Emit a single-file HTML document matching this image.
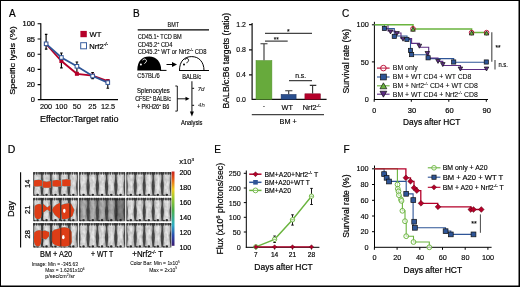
<!DOCTYPE html>
<html><head><meta charset="utf-8">
<style>html,body{margin:0;padding:0;background:#fff;}body{width:520px;height:287px;overflow:hidden;}svg{display:block;will-change:transform;}svg{font-family:"Liberation Sans",sans-serif;}</style></head><body>
<svg width="520" height="287" viewBox="0 0 520 287">
<rect x="0" y="0" width="520" height="287" fill="#000"/>
<rect x="1" y="1" width="517.5" height="284.5" fill="#fff"/>
<text x="9" y="16.6" font-size="10" text-anchor="start" fill="#000"  stroke="#000" stroke-width="0.2">A</text>
<text transform="translate(15.1,60.5) rotate(-90)" font-size="8.0" text-anchor="middle" stroke="#000" stroke-width="0.2" textLength="68.6" lengthAdjust="spacingAndGlyphs">Specific lysis (%)</text>
<g stroke="#000" stroke-width="1.15" fill="none"><path d="M40.8,23.2 V100.1 M37.8,99.6 H118"/>
<path d="M37.6,23.7H40.8 M37.6,39H40.8 M37.6,54.2H40.8 M37.6,69.4H40.8 M37.6,84.6H40.8"/></g>
<text x="35.0" y="26.2" font-size="7.5" text-anchor="end" fill="#000"  stroke="#000" stroke-width="0.2">100</text>
<text x="35.0" y="41.5" font-size="7.5" text-anchor="end" fill="#000"  stroke="#000" stroke-width="0.2">85</text>
<text x="35.0" y="56.7" font-size="7.5" text-anchor="end" fill="#000"  stroke="#000" stroke-width="0.2">60</text>
<text x="35.0" y="71.9" font-size="7.5" text-anchor="end" fill="#000"  stroke="#000" stroke-width="0.2">40</text>
<text x="35.0" y="87.1" font-size="7.5" text-anchor="end" fill="#000"  stroke="#000" stroke-width="0.2">20</text>
<text x="35.0" y="102.3" font-size="7.5" text-anchor="end" fill="#000"  stroke="#000" stroke-width="0.2">0</text>
<text x="46" y="109.3" font-size="7.3" text-anchor="middle" fill="#000"  stroke="#000" stroke-width="0.14">200</text>
<text x="61.4" y="109.3" font-size="7.3" text-anchor="middle" fill="#000"  stroke="#000" stroke-width="0.14">100</text>
<text x="76.9" y="109.3" font-size="7.3" text-anchor="middle" fill="#000"  stroke="#000" stroke-width="0.14">50</text>
<text x="92.4" y="109.3" font-size="7.3" text-anchor="middle" fill="#000"  stroke="#000" stroke-width="0.14">25</text>
<text x="108" y="109.3" font-size="7.3" text-anchor="middle" fill="#000"  stroke="#000" stroke-width="0.14">12.5</text>
<text x="40" y="122.3" font-size="8.9" text-anchor="start" fill="#000" textLength="78.5" lengthAdjust="spacingAndGlyphs"  stroke="#000" stroke-width="0.2">Effector:Target ratio</text>
<g stroke="#000" stroke-width="1.15" fill="none">
<path d="M46.1,34.3V49.1 M44.9,34.3H47.4 M44.9,49.1H47.4"/>
<path d="M61.4,53V67.9 M60.1,53H62.7 M60.1,67.9H62.7"/>
<path d="M76.9,62V75 M75.6,62H78.2"/>
<path d="M92.6,72.5V78.6 M91.3,72.5H93.9 M91.3,78.6H93.9"/>
<path d="M107.8,79.8V88.2 M106.5,79.8H109.1 M106.5,88.2H109.1"/></g>
<polyline points="46.1,44 61.4,61 76.9,73.8 92.6,75.6 107.8,81.2" fill="none" stroke="#b5002a" stroke-width="1.8"/>
<rect x="44.1" y="42" width="4" height="4" fill="#b5002a"/>
<rect x="59.4" y="59" width="4" height="4" fill="#b5002a"/>
<rect x="74.9" y="71.8" width="4" height="4" fill="#b5002a"/>
<rect x="90.6" y="73.6" width="4" height="4" fill="#b5002a"/>
<rect x="105.8" y="79.2" width="4" height="4" fill="#b5002a"/>
<polyline points="46.1,43.8 61.4,57.5 76.9,66.3 92.6,76 107.8,82.6" fill="none" stroke="#2e5597" stroke-width="1.8"/>
<rect x="44.300000000000004" y="42.0" width="3.6" height="3.6" fill="#fff" stroke="#2e5597" stroke-width="1"/>
<rect x="59.6" y="55.7" width="3.6" height="3.6" fill="#fff" stroke="#2e5597" stroke-width="1"/>
<rect x="75.10000000000001" y="64.5" width="3.6" height="3.6" fill="#fff" stroke="#2e5597" stroke-width="1"/>
<rect x="90.8" y="74.2" width="3.6" height="3.6" fill="#fff" stroke="#2e5597" stroke-width="1"/>
<rect x="106.0" y="80.8" width="3.6" height="3.6" fill="#fff" stroke="#2e5597" stroke-width="1"/>
<rect x="80.4" y="30.9" width="6.4" height="6.3" fill="#b5002a"/>
<rect x="80.7" y="42.7" width="5.8" height="6.1" fill="#fff" stroke="#3a5fa0" stroke-width="1"/>
<text x="89.5" y="37.2" font-size="7.6" text-anchor="start" fill="#000"  stroke="#000" stroke-width="0.2">WT</text>
<text x="89.3" y="49.2" font-size="7.6" text-anchor="start" fill="#000"  stroke="#000" stroke-width="0.2">Nrf2<tspan font-size="4.6" dy="-3.2">-/-</tspan></text>
<text x="133" y="16.6" font-size="10" text-anchor="start" fill="#000"  stroke="#000" stroke-width="0.2">B</text>
<text x="167.5" y="26.7" font-size="6.3" text-anchor="start" fill="#000" textLength="11.5" lengthAdjust="spacingAndGlyphs"  stroke="#000" stroke-width="0.1">BMT</text>
<path d="M137.7,29.8H209" stroke="#000" stroke-width="1.2"/>
<text x="137.7" y="39.2" font-size="6.3" text-anchor="start" fill="#000" textLength="44.1" lengthAdjust="spacingAndGlyphs"  stroke="#000" stroke-width="0.1">CD45.1<tspan font-size="4" dy="-2.6">+</tspan><tspan dy="2.6"> TCD BM</tspan></text>
<text x="137.7" y="46.5" font-size="6.3" text-anchor="start" fill="#000" textLength="34.8" lengthAdjust="spacingAndGlyphs"  stroke="#000" stroke-width="0.1">CD45.2<tspan font-size="4" dy="-2.6">+</tspan><tspan dy="2.6"> CD4</tspan></text>
<text x="137.7" y="53.8" font-size="6.3" text-anchor="start" fill="#000" textLength="68.8" lengthAdjust="spacingAndGlyphs"  stroke="#000" stroke-width="0.1">CD45.2<tspan font-size="4" dy="-2.6">+</tspan><tspan dy="2.6"> WT or Nrf2</tspan><tspan font-size="4" dy="-2.6">-/-</tspan><tspan dy="2.6"> CD8</tspan></text>
<path d="M137.3,70.5 C137.3,61 142,56.6 149.2,56.6 C156.5,56.6 161.2,62 161.2,70.5 Z" fill="#000"/>
<path d="M160,70.4H166.5" stroke="#000" stroke-width="1"/>
<path d="M142.7,60.4 a1.9,1.9 0 1 1 2.5,2.3 q-0.6,0.4 -0.6,1.1" fill="none" stroke="#fff" stroke-width="0.9"/>
<circle cx="140.9" cy="64.5" r="1" fill="#fff"/>
<path d="M166.5,64.5H173" stroke="#000" stroke-width="1"/><path d="M177,64.5 L172,62 L172,67 Z" fill="#000"/>
<path d="M179.5,70.5 C179.5,61 184.5,56.6 191.7,56.6 C199,56.6 204,62 204,70.5" fill="none" stroke="#000" stroke-width="1"/>
<path d="M179,70.5H209" stroke="#000" stroke-width="1"/>
<path d="M184.9,59.8 a1.9,1.9 0 1 1 2.5,2.3 q-0.6,0.4 -0.6,1.1" fill="none" stroke="#000" stroke-width="0.9"/>
<circle cx="184" cy="64.5" r="1" fill="#000"/>
<text x="137.3" y="78" font-size="6.3" text-anchor="start" fill="#000" textLength="22.5" lengthAdjust="spacingAndGlyphs"  stroke="#000" stroke-width="0.1">C57BL/6</text>
<text x="182.3" y="79.2" font-size="6.6" text-anchor="start" fill="#000" textLength="18.8" lengthAdjust="spacingAndGlyphs"  stroke="#000" stroke-width="0.14">BALB/c</text>
<text x="153.45" y="92.9" font-size="6.9" text-anchor="middle" fill="#000" textLength="32.7" lengthAdjust="spacingAndGlyphs"  stroke="#000" stroke-width="0.14">Splenocytes</text>
<text x="153.1" y="101" font-size="6.9" text-anchor="middle" fill="#000" textLength="35.8" lengthAdjust="spacingAndGlyphs"  stroke="#000" stroke-width="0.14">CFSE<tspan font-size="4.4" dy="-2.8">+</tspan><tspan dy="2.8"> BALB/c</tspan></text>
<text x="153.1" y="108.7" font-size="6.9" text-anchor="middle" fill="#000" textLength="32.4" lengthAdjust="spacingAndGlyphs"  stroke="#000" stroke-width="0.14">+ PKH26<tspan font-size="4.4" dy="-2.8">+</tspan><tspan dy="2.8"> B6</tspan></text>
<path d="M175.3,86H177.3V111.1H175.3 M177.3,98.8H186" fill="none" stroke="#000" stroke-width="0.9"/>
<path d="M189.5,98.8 L185.5,96.8 L185.5,100.8 Z" fill="#000"/>
<path d="M191.9,81.3V112 M191.9,88.3H194.1 M191.9,105.4H194.1" fill="none" stroke="#333" stroke-width="1.2"/>
<path d="M191.9,116.5 L189.9,111.6 L193.9,111.6 Z" fill="#000"/>
<text x="197.7" y="90.8" font-size="6.0" text-anchor="start" fill="#222" textLength="6.8" lengthAdjust="spacingAndGlyphs" font-style="italic" stroke="#222" stroke-width="0.1">7d</text>
<text x="198.1" y="106.6" font-size="5.8" text-anchor="start" fill="#333" textLength="6.8" lengthAdjust="spacingAndGlyphs" font-style="italic" stroke="#333" stroke-width="0.05">4h</text>
<text x="181" y="124.9" font-size="6.8" text-anchor="start" fill="#000" textLength="21.5" lengthAdjust="spacingAndGlyphs"  stroke="#000" stroke-width="0.14">Analysis</text>
<text transform="translate(228.5,60.65) rotate(-90)" font-size="8.8" text-anchor="middle" stroke="#000" stroke-width="0.2" textLength="95.5" lengthAdjust="spacingAndGlyphs">BALB/c:B6 targets (ratio)</text>
<path d="M252.1,22.9V99.7 M251.6,99.3H326.6 M249,24.6H252.1 M249,49.8H252.1 M249,74.9H252.1" fill="none" stroke="#111" stroke-width="1.2"/>
<text x="245.9" y="27.1" font-size="6.9" text-anchor="end" fill="#000"  stroke="#000" stroke-width="0.14">1.2</text>
<text x="245.9" y="52.3" font-size="6.9" text-anchor="end" fill="#000"  stroke="#000" stroke-width="0.14">0.8</text>
<text x="245.9" y="77.4" font-size="6.9" text-anchor="end" fill="#000"  stroke="#000" stroke-width="0.14">0.4</text>
<text x="245.9" y="102.1" font-size="6.9" text-anchor="end" fill="#000"  stroke="#000" stroke-width="0.14">0.0</text>
<rect x="256.0" y="60.5" width="15.9" height="38.8" fill="#67aa3c" stroke="#52902c" stroke-width="0.5"/>
<rect x="281.1" y="94.4" width="15" height="4.9" fill="#2a4f8e" stroke="#1a2f5e" stroke-width="0.5"/>
<rect x="304.9" y="93.8" width="15.5" height="5.5" fill="#b5002a" stroke="#800020" stroke-width="0.5"/>
<path d="M264,60.2V43.8 M260.5,43.8H267.5 M288.7,94.2V90.7 M285.2,90.7H292.4 M312.6,93.6V85.4 M309.8,85.4H316.3" fill="none" stroke="#333" stroke-width="1.1"/>
<path d="M265,33.4H312 M265,41.2H287.7 M289,80.5H312 M251.8,114.6H324" fill="none" stroke="#444" stroke-width="1.25"/>
<text x="288.4" y="34.1" font-size="6.8" text-anchor="middle" fill="#000"  stroke="#000" stroke-width="0.14">*</text>
<text x="276.2" y="41.5" font-size="6.5" text-anchor="middle" fill="#000"  stroke="#000" stroke-width="0.1">**</text>
<text x="300.7" y="77.8" font-size="7.0" text-anchor="middle" fill="#000" textLength="11" lengthAdjust="spacingAndGlyphs"  stroke="#000" stroke-width="0.14">n.s.</text>
<text x="263.8" y="108" font-size="7.0" text-anchor="middle" fill="#000"  stroke="#000" stroke-width="0.14">-</text>
<text x="287.3" y="109.8" font-size="7.3" text-anchor="middle" fill="#000"  stroke="#000" stroke-width="0.14">WT</text>
<text x="302.7" y="109.8" font-size="7.3" text-anchor="start" fill="#000"  stroke="#000" stroke-width="0.14">Nrf2<tspan font-size="4.4" dy="-3">-/-</tspan></text>
<text x="288.2" y="124" font-size="7.3" text-anchor="middle" fill="#000"  stroke="#000" stroke-width="0.14">BM +</text>
<text x="342" y="17" font-size="10" text-anchor="start" fill="#000"  stroke="#000" stroke-width="0.2">C</text>
<text transform="translate(349.1,61.2) rotate(-90)" font-size="8.4" text-anchor="middle" stroke="#000" stroke-width="0.2" textLength="64.5" lengthAdjust="spacingAndGlyphs">Survival rate (%)</text>
<path d="M374.4,21.8V99.5 M373.9,99.5H488 M371.9,24.8H374.4 M371.9,61.9H374.4 M374.2,99.5V101.8 M411.3,99.5V101.8 M448.8,99.5V101.8 M486.3,99.5V101.8" fill="none" stroke="#000" stroke-width="1"/>
<text x="368.8" y="27.1" font-size="7.3" text-anchor="end" fill="#000"  stroke="#000" stroke-width="0.14">100</text>
<text x="368.8" y="64.6" font-size="7.3" text-anchor="end" fill="#000"  stroke="#000" stroke-width="0.14">50</text>
<text x="368.8" y="102.1" font-size="7.3" text-anchor="end" fill="#000"  stroke="#000" stroke-width="0.14">0</text>
<text x="374.2" y="112.7" font-size="7.9" text-anchor="middle" fill="#000" textLength="3.9" lengthAdjust="spacingAndGlyphs"  stroke="#000" stroke-width="0.2">0</text>
<text x="412.0" y="112.7" font-size="7.9" text-anchor="middle" fill="#000" textLength="8.4" lengthAdjust="spacingAndGlyphs"  stroke="#000" stroke-width="0.2">30</text>
<text x="449.4" y="112.7" font-size="7.9" text-anchor="middle" fill="#000" textLength="8.4" lengthAdjust="spacingAndGlyphs"  stroke="#000" stroke-width="0.2">60</text>
<text x="486.8" y="112.7" font-size="7.9" text-anchor="middle" fill="#000" textLength="8.4" lengthAdjust="spacingAndGlyphs"  stroke="#000" stroke-width="0.2">90</text>
<text x="403.1" y="125.2" font-size="8.5" text-anchor="start" fill="#000" textLength="57.3" lengthAdjust="spacingAndGlyphs"  stroke="#000" stroke-width="0.2">Days after HCT</text>
<path d="M374.4,24.8 H384.4 V28.6 H394.3 V36 H407 V39.4 H410.5 V54.8 H428 V58.6 H453.7 V62.2 H486.3" fill="none" stroke="#2e5597" stroke-width="1.1"/>
<path d="M388,24.8 V31 H395 V33 H401 V38.5 H411.6 V43.4 H419.4 V47.2 H428.7 V58 H438 V61.4 H442.8 V65.5 H460.5 V69.5 H486.5" fill="none" stroke="#5c2d83" stroke-width="1.1"/>
<path d="M374.4,24.8 H413 V29 H471.6 V32.5 H486.6" fill="none" stroke="#6ab43e" stroke-width="1.5"/>
<path d="M388.2,29.898999999999997 H392.8 L390.5,33.900999999999996 Z" fill="#5c2d83" stroke="#111" stroke-width="0.7"/>
<path d="M394.7,31.499 H399.3 L397,35.501 Z" fill="#5c2d83" stroke="#111" stroke-width="0.7"/>
<path d="M400.7,37.199000000000005 H405.3 L403,41.201 Z" fill="#5c2d83" stroke="#111" stroke-width="0.7"/>
<path d="M417.09999999999997,44.199000000000005 H421.7 L419.4,48.201 Z" fill="#5c2d83" stroke="#111" stroke-width="0.7"/>
<path d="M425.0,51.499 H429.6 L427.3,55.501 Z" fill="#5c2d83" stroke="#111" stroke-width="0.7"/>
<path d="M435.7,59.399 H440.3 L438,63.400999999999996 Z" fill="#5c2d83" stroke="#111" stroke-width="0.7"/>
<path d="M440.5,62.599 H445.1 L442.8,66.601 Z" fill="#5c2d83" stroke="#111" stroke-width="0.7"/>
<path d="M458.09999999999997,66.999 H462.7 L460.4,71.001 Z" fill="#5c2d83" stroke="#111" stroke-width="0.7"/>
<path d="M484.2,66.999 H488.8 L486.5,71.001 Z" fill="#5c2d83" stroke="#111" stroke-width="0.7"/>
<rect x="382.29999999999995" y="26.4" width="4.2" height="4.2" fill="#2e5597" stroke="#111" stroke-width="0.7"/>
<rect x="392.2" y="34.3" width="4.2" height="4.2" fill="#2e5597" stroke="#111" stroke-width="0.7"/>
<rect x="404.79999999999995" y="37.3" width="4.2" height="4.2" fill="#2e5597" stroke="#111" stroke-width="0.7"/>
<rect x="408.4" y="48.3" width="4.2" height="4.2" fill="#2e5597" stroke="#111" stroke-width="0.7"/>
<rect x="409.5" y="52.5" width="4.2" height="4.2" fill="#2e5597" stroke="#111" stroke-width="0.7"/>
<rect x="426.0" y="55.699999999999996" width="4.2" height="4.2" fill="#2e5597" stroke="#111" stroke-width="0.7"/>
<rect x="451.59999999999997" y="59.9" width="4.2" height="4.2" fill="#2e5597" stroke="#111" stroke-width="0.7"/>
<rect x="484.2" y="59.9" width="4.2" height="4.2" fill="#2e5597" stroke="#111" stroke-width="0.7"/>
<circle cx="413" cy="28.8" r="2.3" fill="none" stroke="#b5002a" stroke-width="0.9"/>
<path d="M410.7,31.201 H415.3 L413,27.198999999999998 Z" fill="#6ab43e" stroke="#111" stroke-width="0.7"/>
<circle cx="471.6" cy="32.6" r="2.3" fill="none" stroke="#b5002a" stroke-width="0.9"/>
<path d="M469.3,35.001 H473.90000000000003 L471.6,30.999 Z" fill="#6ab43e" stroke="#111" stroke-width="0.7"/>
<circle cx="486.6" cy="32.6" r="2.3" fill="none" stroke="#b5002a" stroke-width="0.9"/>
<path d="M484.3,35.001 H488.90000000000003 L486.6,30.999 Z" fill="#6ab43e" stroke="#111" stroke-width="0.7"/>
<path d="M377,68.1H389.6" stroke="#b5002a" stroke-width="1.1"/>
<circle cx="383.4" cy="68.1" r="2.8" fill="#fff" stroke="#b5002a" stroke-width="0.9"/>
<path d="M380.6,68.1H386.2" stroke="#b5002a" stroke-width="0.9"/>
<text x="392.8" y="70.39999999999999" font-size="6.9" text-anchor="start" fill="#000"  stroke="#000" stroke-width="0.05">BM only</text>
<path d="M377,77H389.6" stroke="#2e5597" stroke-width="1.1"/>
<rect x="380.5" y="74.1" width="5.8" height="5.8" fill="#2e5597" stroke="#111" stroke-width="0.7"/>
<text x="392.8" y="79.3" font-size="6.9" text-anchor="start" fill="#000"  stroke="#000" stroke-width="0.05">BM + WT CD4 + WT CD8</text>
<path d="M377,85.8H389.6" stroke="#6ab43e" stroke-width="1.1"/>
<path d="M380.0,88.758 H386.79999999999995 L383.4,82.842 Z" fill="#6ab43e" stroke="#111" stroke-width="0.7"/>
<text x="392.8" y="88.1" font-size="6.9" text-anchor="start" fill="#000"  stroke="#000" stroke-width="0.05">BM + Nrf2<tspan font-size="4.2" dy="-2.8">-/-</tspan><tspan dy="2.8"> CD4 + WT CD8</tspan></text>
<path d="M377,94.2H389.6" stroke="#5c2d83" stroke-width="1.1"/>
<path d="M380.0,91.242 H386.79999999999995 L383.4,97.158 Z" fill="#5c2d83" stroke="#111" stroke-width="0.7"/>
<text x="392.8" y="96.5" font-size="6.9" text-anchor="start" fill="#000"  stroke="#000" stroke-width="0.05">BM + WT CD4 + Nrf2<tspan font-size="4.2" dy="-2.8">-/-</tspan><tspan dy="2.8"> CD8</tspan></text>
<path d="M491.8,32.2V61.8 M495,59.9V69.4" stroke="#555" stroke-width="1.2" fill="none"/>
<text x="498.0" y="49.6" font-size="7.0" text-anchor="middle" fill="#000" textLength="5" lengthAdjust="spacingAndGlyphs"  stroke="#000" stroke-width="0.14">**</text>
<text x="498.4" y="67.2" font-size="7.0" text-anchor="start" fill="#000" textLength="9.5" lengthAdjust="spacingAndGlyphs"  stroke="#000" stroke-width="0.14">n.s.</text>
<text x="7.8" y="153.4" font-size="10.5" text-anchor="start" fill="#000"  stroke="#000" stroke-width="0.2">D</text>
<text transform="translate(14.3,209.0) rotate(-90)" font-size="8.4" text-anchor="middle" stroke="#000" stroke-width="0.2" textLength="16.2" lengthAdjust="spacingAndGlyphs">Day</text>
<path d="M20.6,172.2V247.4" stroke="#000" stroke-width="1.1"/>
<text transform="translate(30.4,183.7) rotate(-90)" font-size="7.6" text-anchor="middle" stroke="#000" stroke-width="0.2">14</text>
<text transform="translate(30.4,209.7) rotate(-90)" font-size="7.6" text-anchor="middle" stroke="#000" stroke-width="0.2">21</text>
<text transform="translate(30.4,234.2) rotate(-90)" font-size="7.6" text-anchor="middle" stroke="#000" stroke-width="0.2">28</text>
<defs>
<linearGradient id="mg" x1="0" x2="1" y1="0" y2="0"><stop offset="0" stop-color="#9a9a9a"/><stop offset="0.25" stop-color="#dcdcdc"/><stop offset="0.6" stop-color="#eaeaea"/><stop offset="1" stop-color="#b4b4b4"/></linearGradient>
<linearGradient id="mgd" x1="0" x2="1" y1="0" y2="0"><stop offset="0" stop-color="#606060"/><stop offset="0.25" stop-color="#a4a4a4"/><stop offset="0.6" stop-color="#b8b8b8"/><stop offset="1" stop-color="#888888"/></linearGradient>
<linearGradient id="cb" x1="0" x2="0" y1="0" y2="1"><stop offset="0" stop-color="#c8201c"/><stop offset="0.1" stop-color="#e45a1a"/><stop offset="0.24" stop-color="#f0cc20"/><stop offset="0.36" stop-color="#9cc832"/><stop offset="0.52" stop-color="#4cae4a"/><stop offset="0.72" stop-color="#2eaec4"/><stop offset="0.86" stop-color="#2a4cae"/><stop offset="1" stop-color="#3a1a70"/></linearGradient>
<filter id="bl" x="-5%" y="-5%" width="110%" height="110%"><feGaussianBlur stdDeviation="0.35"/></filter>
<filter id="nz" x="0" y="0" width="100%" height="100%"><feTurbulence type="fractalNoise" baseFrequency="0.35 0.22" numOctaves="2" seed="3" result="t"/><feColorMatrix in="t" type="matrix" values="0 0 0 0 0  0 0 0 0 0  0 0 0 0 0  0 0 0 -1.6 1.05" result="m"/><feComposite in="m" in2="SourceGraphic" operator="in"/></filter>
<path id="mouse" d="M1.6,0.4 H7.4 C8.2,1.5 8.6,3.5 8.4,6.5 C8.1,9.5 7.5,11.5 7.5,14 C7.5,17 8.1,20 8.4,23.6 L0.6,23.6 C0.9,20 1.5,17 1.5,14 C1.5,11.5 0.9,9.5 0.6,6.5 C0.4,3.5 0.8,1.5 1.6,0.4 Z"/>
</defs>
<g filter="url(#bl)">
<rect x="33.1" y="172.1" width="44.7" height="23.7" fill="#484848"/>
<use href="#mouse" transform="translate(33.10,172.1) scale(0.971,0.988)" fill="url(#mg)"/>
<ellipse cx="34.29" cy="173.40" rx="0.9" ry="1.4" fill="#2e2e2e" opacity="0.85"/>
<ellipse cx="36.68" cy="173.40" rx="0.9" ry="1.4" fill="#2e2e2e" opacity="0.85"/>
<ellipse cx="39.06" cy="173.40" rx="0.9" ry="1.4" fill="#2e2e2e" opacity="0.85"/>
<ellipse cx="41.05" cy="173.40" rx="0.9" ry="1.4" fill="#2e2e2e" opacity="0.85"/>
<ellipse cx="37.57" cy="194.80" rx="1.3" ry="1.1" fill="#2a2a2a"/>
<ellipse cx="34.70" cy="195.10" rx="1.0" ry="0.7" fill="#333"/>
<use href="#mouse" transform="translate(42.04,172.1) scale(0.971,0.988)" fill="url(#mg)"/>
<ellipse cx="43.23" cy="173.40" rx="0.9" ry="1.4" fill="#2e2e2e" opacity="0.85"/>
<ellipse cx="45.62" cy="173.40" rx="0.9" ry="1.4" fill="#2e2e2e" opacity="0.85"/>
<ellipse cx="48.00" cy="173.40" rx="0.9" ry="1.4" fill="#2e2e2e" opacity="0.85"/>
<ellipse cx="49.99" cy="173.40" rx="0.9" ry="1.4" fill="#2e2e2e" opacity="0.85"/>
<ellipse cx="46.51" cy="194.80" rx="1.3" ry="1.1" fill="#2a2a2a"/>
<ellipse cx="43.64" cy="195.10" rx="1.0" ry="0.7" fill="#333"/>
<use href="#mouse" transform="translate(50.98,172.1) scale(0.971,0.988)" fill="url(#mg)"/>
<ellipse cx="52.17" cy="173.40" rx="0.9" ry="1.4" fill="#2e2e2e" opacity="0.85"/>
<ellipse cx="54.56" cy="173.40" rx="0.9" ry="1.4" fill="#2e2e2e" opacity="0.85"/>
<ellipse cx="56.94" cy="173.40" rx="0.9" ry="1.4" fill="#2e2e2e" opacity="0.85"/>
<ellipse cx="58.93" cy="173.40" rx="0.9" ry="1.4" fill="#2e2e2e" opacity="0.85"/>
<ellipse cx="55.45" cy="194.80" rx="1.3" ry="1.1" fill="#2a2a2a"/>
<ellipse cx="52.58" cy="195.10" rx="1.0" ry="0.7" fill="#333"/>
<use href="#mouse" transform="translate(59.92,172.1) scale(0.971,0.988)" fill="url(#mg)"/>
<ellipse cx="61.11" cy="173.40" rx="0.9" ry="1.4" fill="#2e2e2e" opacity="0.85"/>
<ellipse cx="63.50" cy="173.40" rx="0.9" ry="1.4" fill="#2e2e2e" opacity="0.85"/>
<ellipse cx="65.88" cy="173.40" rx="0.9" ry="1.4" fill="#2e2e2e" opacity="0.85"/>
<ellipse cx="67.87" cy="173.40" rx="0.9" ry="1.4" fill="#2e2e2e" opacity="0.85"/>
<ellipse cx="64.39" cy="194.80" rx="1.3" ry="1.1" fill="#2a2a2a"/>
<ellipse cx="61.52" cy="195.10" rx="1.0" ry="0.7" fill="#333"/>
<use href="#mouse" transform="translate(68.86,172.1) scale(0.971,0.988)" fill="url(#mg)"/>
<ellipse cx="70.05" cy="173.40" rx="0.9" ry="1.4" fill="#2e2e2e" opacity="0.85"/>
<ellipse cx="72.44" cy="173.40" rx="0.9" ry="1.4" fill="#2e2e2e" opacity="0.85"/>
<ellipse cx="74.82" cy="173.40" rx="0.9" ry="1.4" fill="#2e2e2e" opacity="0.85"/>
<ellipse cx="76.81" cy="173.40" rx="0.9" ry="1.4" fill="#2e2e2e" opacity="0.85"/>
<ellipse cx="73.33" cy="194.80" rx="1.3" ry="1.1" fill="#2a2a2a"/>
<ellipse cx="70.46" cy="195.10" rx="1.0" ry="0.7" fill="#333"/>
<rect x="33.1" y="197.9" width="44.7" height="23.3" fill="#484848"/>
<use href="#mouse" transform="translate(33.10,197.9) scale(0.971,0.971)" fill="url(#mg)"/>
<ellipse cx="34.29" cy="199.20" rx="0.9" ry="1.4" fill="#2e2e2e" opacity="0.85"/>
<ellipse cx="36.68" cy="199.20" rx="0.9" ry="1.4" fill="#2e2e2e" opacity="0.85"/>
<ellipse cx="39.06" cy="199.20" rx="0.9" ry="1.4" fill="#2e2e2e" opacity="0.85"/>
<ellipse cx="41.05" cy="199.20" rx="0.9" ry="1.4" fill="#2e2e2e" opacity="0.85"/>
<ellipse cx="37.57" cy="220.20" rx="1.3" ry="1.1" fill="#2a2a2a"/>
<ellipse cx="34.70" cy="220.50" rx="1.0" ry="0.7" fill="#333"/>
<use href="#mouse" transform="translate(42.04,197.9) scale(0.971,0.971)" fill="url(#mg)"/>
<ellipse cx="43.23" cy="199.20" rx="0.9" ry="1.4" fill="#2e2e2e" opacity="0.85"/>
<ellipse cx="45.62" cy="199.20" rx="0.9" ry="1.4" fill="#2e2e2e" opacity="0.85"/>
<ellipse cx="48.00" cy="199.20" rx="0.9" ry="1.4" fill="#2e2e2e" opacity="0.85"/>
<ellipse cx="49.99" cy="199.20" rx="0.9" ry="1.4" fill="#2e2e2e" opacity="0.85"/>
<ellipse cx="46.51" cy="220.20" rx="1.3" ry="1.1" fill="#2a2a2a"/>
<ellipse cx="43.64" cy="220.50" rx="1.0" ry="0.7" fill="#333"/>
<use href="#mouse" transform="translate(50.98,197.9) scale(0.971,0.971)" fill="url(#mg)"/>
<ellipse cx="52.17" cy="199.20" rx="0.9" ry="1.4" fill="#2e2e2e" opacity="0.85"/>
<ellipse cx="54.56" cy="199.20" rx="0.9" ry="1.4" fill="#2e2e2e" opacity="0.85"/>
<ellipse cx="56.94" cy="199.20" rx="0.9" ry="1.4" fill="#2e2e2e" opacity="0.85"/>
<ellipse cx="58.93" cy="199.20" rx="0.9" ry="1.4" fill="#2e2e2e" opacity="0.85"/>
<ellipse cx="55.45" cy="220.20" rx="1.3" ry="1.1" fill="#2a2a2a"/>
<ellipse cx="52.58" cy="220.50" rx="1.0" ry="0.7" fill="#333"/>
<use href="#mouse" transform="translate(59.92,197.9) scale(0.971,0.971)" fill="url(#mg)"/>
<ellipse cx="61.11" cy="199.20" rx="0.9" ry="1.4" fill="#2e2e2e" opacity="0.85"/>
<ellipse cx="63.50" cy="199.20" rx="0.9" ry="1.4" fill="#2e2e2e" opacity="0.85"/>
<ellipse cx="65.88" cy="199.20" rx="0.9" ry="1.4" fill="#2e2e2e" opacity="0.85"/>
<ellipse cx="67.87" cy="199.20" rx="0.9" ry="1.4" fill="#2e2e2e" opacity="0.85"/>
<ellipse cx="64.39" cy="220.20" rx="1.3" ry="1.1" fill="#2a2a2a"/>
<ellipse cx="61.52" cy="220.50" rx="1.0" ry="0.7" fill="#333"/>
<use href="#mouse" transform="translate(68.86,197.9) scale(0.971,0.971)" fill="url(#mg)"/>
<ellipse cx="70.05" cy="199.20" rx="0.9" ry="1.4" fill="#2e2e2e" opacity="0.85"/>
<ellipse cx="72.44" cy="199.20" rx="0.9" ry="1.4" fill="#2e2e2e" opacity="0.85"/>
<ellipse cx="74.82" cy="199.20" rx="0.9" ry="1.4" fill="#2e2e2e" opacity="0.85"/>
<ellipse cx="76.81" cy="199.20" rx="0.9" ry="1.4" fill="#2e2e2e" opacity="0.85"/>
<ellipse cx="73.33" cy="220.20" rx="1.3" ry="1.1" fill="#2a2a2a"/>
<ellipse cx="70.46" cy="220.50" rx="1.0" ry="0.7" fill="#333"/>
<rect x="33.1" y="223.0" width="44.7" height="24.4" fill="#484848"/>
<use href="#mouse" transform="translate(33.10,223.0) scale(0.971,1.017)" fill="url(#mg)"/>
<ellipse cx="34.29" cy="224.30" rx="0.9" ry="1.4" fill="#2e2e2e" opacity="0.85"/>
<ellipse cx="36.68" cy="224.30" rx="0.9" ry="1.4" fill="#2e2e2e" opacity="0.85"/>
<ellipse cx="39.06" cy="224.30" rx="0.9" ry="1.4" fill="#2e2e2e" opacity="0.85"/>
<ellipse cx="41.05" cy="224.30" rx="0.9" ry="1.4" fill="#2e2e2e" opacity="0.85"/>
<ellipse cx="37.57" cy="246.40" rx="1.3" ry="1.1" fill="#2a2a2a"/>
<ellipse cx="34.70" cy="246.70" rx="1.0" ry="0.7" fill="#333"/>
<use href="#mouse" transform="translate(42.04,223.0) scale(0.971,1.017)" fill="url(#mg)"/>
<ellipse cx="43.23" cy="224.30" rx="0.9" ry="1.4" fill="#2e2e2e" opacity="0.85"/>
<ellipse cx="45.62" cy="224.30" rx="0.9" ry="1.4" fill="#2e2e2e" opacity="0.85"/>
<ellipse cx="48.00" cy="224.30" rx="0.9" ry="1.4" fill="#2e2e2e" opacity="0.85"/>
<ellipse cx="49.99" cy="224.30" rx="0.9" ry="1.4" fill="#2e2e2e" opacity="0.85"/>
<ellipse cx="46.51" cy="246.40" rx="1.3" ry="1.1" fill="#2a2a2a"/>
<ellipse cx="43.64" cy="246.70" rx="1.0" ry="0.7" fill="#333"/>
<use href="#mouse" transform="translate(50.98,223.0) scale(0.971,1.017)" fill="url(#mg)"/>
<ellipse cx="52.17" cy="224.30" rx="0.9" ry="1.4" fill="#2e2e2e" opacity="0.85"/>
<ellipse cx="54.56" cy="224.30" rx="0.9" ry="1.4" fill="#2e2e2e" opacity="0.85"/>
<ellipse cx="56.94" cy="224.30" rx="0.9" ry="1.4" fill="#2e2e2e" opacity="0.85"/>
<ellipse cx="58.93" cy="224.30" rx="0.9" ry="1.4" fill="#2e2e2e" opacity="0.85"/>
<ellipse cx="55.45" cy="246.40" rx="1.3" ry="1.1" fill="#2a2a2a"/>
<ellipse cx="52.58" cy="246.70" rx="1.0" ry="0.7" fill="#333"/>
<use href="#mouse" transform="translate(59.92,223.0) scale(0.971,1.017)" fill="url(#mg)"/>
<ellipse cx="61.11" cy="224.30" rx="0.9" ry="1.4" fill="#2e2e2e" opacity="0.85"/>
<ellipse cx="63.50" cy="224.30" rx="0.9" ry="1.4" fill="#2e2e2e" opacity="0.85"/>
<ellipse cx="65.88" cy="224.30" rx="0.9" ry="1.4" fill="#2e2e2e" opacity="0.85"/>
<ellipse cx="67.87" cy="224.30" rx="0.9" ry="1.4" fill="#2e2e2e" opacity="0.85"/>
<ellipse cx="64.39" cy="246.40" rx="1.3" ry="1.1" fill="#2a2a2a"/>
<ellipse cx="61.52" cy="246.70" rx="1.0" ry="0.7" fill="#333"/>
<use href="#mouse" transform="translate(68.86,223.0) scale(0.971,1.017)" fill="url(#mg)"/>
<ellipse cx="70.05" cy="224.30" rx="0.9" ry="1.4" fill="#2e2e2e" opacity="0.85"/>
<ellipse cx="72.44" cy="224.30" rx="0.9" ry="1.4" fill="#2e2e2e" opacity="0.85"/>
<ellipse cx="74.82" cy="224.30" rx="0.9" ry="1.4" fill="#2e2e2e" opacity="0.85"/>
<ellipse cx="76.81" cy="224.30" rx="0.9" ry="1.4" fill="#2e2e2e" opacity="0.85"/>
<ellipse cx="73.33" cy="246.40" rx="1.3" ry="1.1" fill="#2a2a2a"/>
<ellipse cx="70.46" cy="246.70" rx="1.0" ry="0.7" fill="#333"/>
<rect x="78.9" y="172.1" width="46.3" height="23.7" fill="#484848"/>
<use href="#mouse" transform="translate(78.90,172.1) scale(1.007,0.988)" fill="url(#mg)"/>
<ellipse cx="80.13" cy="173.40" rx="0.9" ry="1.4" fill="#2e2e2e" opacity="0.85"/>
<ellipse cx="82.60" cy="173.40" rx="0.9" ry="1.4" fill="#2e2e2e" opacity="0.85"/>
<ellipse cx="85.07" cy="173.40" rx="0.9" ry="1.4" fill="#2e2e2e" opacity="0.85"/>
<ellipse cx="87.13" cy="173.40" rx="0.9" ry="1.4" fill="#2e2e2e" opacity="0.85"/>
<ellipse cx="83.53" cy="194.80" rx="1.3" ry="1.1" fill="#2a2a2a"/>
<ellipse cx="80.50" cy="195.10" rx="1.0" ry="0.7" fill="#333"/>
<use href="#mouse" transform="translate(88.16,172.1) scale(1.007,0.988)" fill="url(#mg)"/>
<ellipse cx="89.39" cy="173.40" rx="0.9" ry="1.4" fill="#2e2e2e" opacity="0.85"/>
<ellipse cx="91.86" cy="173.40" rx="0.9" ry="1.4" fill="#2e2e2e" opacity="0.85"/>
<ellipse cx="94.33" cy="173.40" rx="0.9" ry="1.4" fill="#2e2e2e" opacity="0.85"/>
<ellipse cx="96.39" cy="173.40" rx="0.9" ry="1.4" fill="#2e2e2e" opacity="0.85"/>
<ellipse cx="92.79" cy="194.80" rx="1.3" ry="1.1" fill="#2a2a2a"/>
<ellipse cx="89.76" cy="195.10" rx="1.0" ry="0.7" fill="#333"/>
<use href="#mouse" transform="translate(97.42,172.1) scale(1.007,0.988)" fill="url(#mg)"/>
<ellipse cx="98.65" cy="173.40" rx="0.9" ry="1.4" fill="#2e2e2e" opacity="0.85"/>
<ellipse cx="101.12" cy="173.40" rx="0.9" ry="1.4" fill="#2e2e2e" opacity="0.85"/>
<ellipse cx="103.59" cy="173.40" rx="0.9" ry="1.4" fill="#2e2e2e" opacity="0.85"/>
<ellipse cx="105.65" cy="173.40" rx="0.9" ry="1.4" fill="#2e2e2e" opacity="0.85"/>
<ellipse cx="102.05" cy="194.80" rx="1.3" ry="1.1" fill="#2a2a2a"/>
<ellipse cx="99.02" cy="195.10" rx="1.0" ry="0.7" fill="#333"/>
<use href="#mouse" transform="translate(106.68,172.1) scale(1.007,0.988)" fill="url(#mg)"/>
<ellipse cx="107.91" cy="173.40" rx="0.9" ry="1.4" fill="#2e2e2e" opacity="0.85"/>
<ellipse cx="110.38" cy="173.40" rx="0.9" ry="1.4" fill="#2e2e2e" opacity="0.85"/>
<ellipse cx="112.85" cy="173.40" rx="0.9" ry="1.4" fill="#2e2e2e" opacity="0.85"/>
<ellipse cx="114.91" cy="173.40" rx="0.9" ry="1.4" fill="#2e2e2e" opacity="0.85"/>
<ellipse cx="111.31" cy="194.80" rx="1.3" ry="1.1" fill="#2a2a2a"/>
<ellipse cx="108.28" cy="195.10" rx="1.0" ry="0.7" fill="#333"/>
<use href="#mouse" transform="translate(115.94,172.1) scale(1.007,0.988)" fill="url(#mg)"/>
<ellipse cx="117.17" cy="173.40" rx="0.9" ry="1.4" fill="#2e2e2e" opacity="0.85"/>
<ellipse cx="119.64" cy="173.40" rx="0.9" ry="1.4" fill="#2e2e2e" opacity="0.85"/>
<ellipse cx="122.11" cy="173.40" rx="0.9" ry="1.4" fill="#2e2e2e" opacity="0.85"/>
<ellipse cx="124.17" cy="173.40" rx="0.9" ry="1.4" fill="#2e2e2e" opacity="0.85"/>
<ellipse cx="120.57" cy="194.80" rx="1.3" ry="1.1" fill="#2a2a2a"/>
<ellipse cx="117.54" cy="195.10" rx="1.0" ry="0.7" fill="#333"/>
<rect x="78.9" y="197.9" width="46.3" height="23.3" fill="#484848"/>
<use href="#mouse" transform="translate(78.90,197.9) scale(1.007,0.971)" fill="url(#mgd)"/>
<ellipse cx="80.13" cy="199.20" rx="0.9" ry="1.4" fill="#2e2e2e" opacity="0.85"/>
<ellipse cx="82.60" cy="199.20" rx="0.9" ry="1.4" fill="#2e2e2e" opacity="0.85"/>
<ellipse cx="85.07" cy="199.20" rx="0.9" ry="1.4" fill="#2e2e2e" opacity="0.85"/>
<ellipse cx="87.13" cy="199.20" rx="0.9" ry="1.4" fill="#2e2e2e" opacity="0.85"/>
<ellipse cx="83.53" cy="220.20" rx="1.3" ry="1.1" fill="#2a2a2a"/>
<ellipse cx="80.50" cy="220.50" rx="1.0" ry="0.7" fill="#333"/>
<use href="#mouse" transform="translate(88.16,197.9) scale(1.007,0.971)" fill="url(#mgd)"/>
<ellipse cx="89.39" cy="199.20" rx="0.9" ry="1.4" fill="#2e2e2e" opacity="0.85"/>
<ellipse cx="91.86" cy="199.20" rx="0.9" ry="1.4" fill="#2e2e2e" opacity="0.85"/>
<ellipse cx="94.33" cy="199.20" rx="0.9" ry="1.4" fill="#2e2e2e" opacity="0.85"/>
<ellipse cx="96.39" cy="199.20" rx="0.9" ry="1.4" fill="#2e2e2e" opacity="0.85"/>
<ellipse cx="92.79" cy="220.20" rx="1.3" ry="1.1" fill="#2a2a2a"/>
<ellipse cx="89.76" cy="220.50" rx="1.0" ry="0.7" fill="#333"/>
<use href="#mouse" transform="translate(97.42,197.9) scale(1.007,0.971)" fill="url(#mgd)"/>
<ellipse cx="98.65" cy="199.20" rx="0.9" ry="1.4" fill="#2e2e2e" opacity="0.85"/>
<ellipse cx="101.12" cy="199.20" rx="0.9" ry="1.4" fill="#2e2e2e" opacity="0.85"/>
<ellipse cx="103.59" cy="199.20" rx="0.9" ry="1.4" fill="#2e2e2e" opacity="0.85"/>
<ellipse cx="105.65" cy="199.20" rx="0.9" ry="1.4" fill="#2e2e2e" opacity="0.85"/>
<ellipse cx="102.05" cy="220.20" rx="1.3" ry="1.1" fill="#2a2a2a"/>
<ellipse cx="99.02" cy="220.50" rx="1.0" ry="0.7" fill="#333"/>
<use href="#mouse" transform="translate(106.68,197.9) scale(1.007,0.971)" fill="url(#mgd)"/>
<ellipse cx="107.91" cy="199.20" rx="0.9" ry="1.4" fill="#2e2e2e" opacity="0.85"/>
<ellipse cx="110.38" cy="199.20" rx="0.9" ry="1.4" fill="#2e2e2e" opacity="0.85"/>
<ellipse cx="112.85" cy="199.20" rx="0.9" ry="1.4" fill="#2e2e2e" opacity="0.85"/>
<ellipse cx="114.91" cy="199.20" rx="0.9" ry="1.4" fill="#2e2e2e" opacity="0.85"/>
<ellipse cx="111.31" cy="220.20" rx="1.3" ry="1.1" fill="#2a2a2a"/>
<ellipse cx="108.28" cy="220.50" rx="1.0" ry="0.7" fill="#333"/>
<use href="#mouse" transform="translate(115.94,197.9) scale(1.007,0.971)" fill="url(#mgd)"/>
<ellipse cx="117.17" cy="199.20" rx="0.9" ry="1.4" fill="#2e2e2e" opacity="0.85"/>
<ellipse cx="119.64" cy="199.20" rx="0.9" ry="1.4" fill="#2e2e2e" opacity="0.85"/>
<ellipse cx="122.11" cy="199.20" rx="0.9" ry="1.4" fill="#2e2e2e" opacity="0.85"/>
<ellipse cx="124.17" cy="199.20" rx="0.9" ry="1.4" fill="#2e2e2e" opacity="0.85"/>
<ellipse cx="120.57" cy="220.20" rx="1.3" ry="1.1" fill="#2a2a2a"/>
<ellipse cx="117.54" cy="220.50" rx="1.0" ry="0.7" fill="#333"/>
<rect x="78.9" y="223.0" width="46.3" height="24.4" fill="#484848"/>
<use href="#mouse" transform="translate(78.90,223.0) scale(1.007,1.017)" fill="url(#mg)"/>
<ellipse cx="80.13" cy="224.30" rx="0.9" ry="1.4" fill="#2e2e2e" opacity="0.85"/>
<ellipse cx="82.60" cy="224.30" rx="0.9" ry="1.4" fill="#2e2e2e" opacity="0.85"/>
<ellipse cx="85.07" cy="224.30" rx="0.9" ry="1.4" fill="#2e2e2e" opacity="0.85"/>
<ellipse cx="87.13" cy="224.30" rx="0.9" ry="1.4" fill="#2e2e2e" opacity="0.85"/>
<ellipse cx="83.53" cy="246.40" rx="1.3" ry="1.1" fill="#2a2a2a"/>
<ellipse cx="80.50" cy="246.70" rx="1.0" ry="0.7" fill="#333"/>
<use href="#mouse" transform="translate(88.16,223.0) scale(1.007,1.017)" fill="url(#mg)"/>
<ellipse cx="89.39" cy="224.30" rx="0.9" ry="1.4" fill="#2e2e2e" opacity="0.85"/>
<ellipse cx="91.86" cy="224.30" rx="0.9" ry="1.4" fill="#2e2e2e" opacity="0.85"/>
<ellipse cx="94.33" cy="224.30" rx="0.9" ry="1.4" fill="#2e2e2e" opacity="0.85"/>
<ellipse cx="96.39" cy="224.30" rx="0.9" ry="1.4" fill="#2e2e2e" opacity="0.85"/>
<ellipse cx="92.79" cy="246.40" rx="1.3" ry="1.1" fill="#2a2a2a"/>
<ellipse cx="89.76" cy="246.70" rx="1.0" ry="0.7" fill="#333"/>
<use href="#mouse" transform="translate(97.42,223.0) scale(1.007,1.017)" fill="url(#mg)"/>
<ellipse cx="98.65" cy="224.30" rx="0.9" ry="1.4" fill="#2e2e2e" opacity="0.85"/>
<ellipse cx="101.12" cy="224.30" rx="0.9" ry="1.4" fill="#2e2e2e" opacity="0.85"/>
<ellipse cx="103.59" cy="224.30" rx="0.9" ry="1.4" fill="#2e2e2e" opacity="0.85"/>
<ellipse cx="105.65" cy="224.30" rx="0.9" ry="1.4" fill="#2e2e2e" opacity="0.85"/>
<ellipse cx="102.05" cy="246.40" rx="1.3" ry="1.1" fill="#2a2a2a"/>
<ellipse cx="99.02" cy="246.70" rx="1.0" ry="0.7" fill="#333"/>
<use href="#mouse" transform="translate(106.68,223.0) scale(1.007,1.017)" fill="url(#mg)"/>
<ellipse cx="107.91" cy="224.30" rx="0.9" ry="1.4" fill="#2e2e2e" opacity="0.85"/>
<ellipse cx="110.38" cy="224.30" rx="0.9" ry="1.4" fill="#2e2e2e" opacity="0.85"/>
<ellipse cx="112.85" cy="224.30" rx="0.9" ry="1.4" fill="#2e2e2e" opacity="0.85"/>
<ellipse cx="114.91" cy="224.30" rx="0.9" ry="1.4" fill="#2e2e2e" opacity="0.85"/>
<ellipse cx="111.31" cy="246.40" rx="1.3" ry="1.1" fill="#2a2a2a"/>
<ellipse cx="108.28" cy="246.70" rx="1.0" ry="0.7" fill="#333"/>
<use href="#mouse" transform="translate(115.94,223.0) scale(1.007,1.017)" fill="url(#mg)"/>
<ellipse cx="117.17" cy="224.30" rx="0.9" ry="1.4" fill="#2e2e2e" opacity="0.85"/>
<ellipse cx="119.64" cy="224.30" rx="0.9" ry="1.4" fill="#2e2e2e" opacity="0.85"/>
<ellipse cx="122.11" cy="224.30" rx="0.9" ry="1.4" fill="#2e2e2e" opacity="0.85"/>
<ellipse cx="124.17" cy="224.30" rx="0.9" ry="1.4" fill="#2e2e2e" opacity="0.85"/>
<ellipse cx="120.57" cy="246.40" rx="1.3" ry="1.1" fill="#2a2a2a"/>
<ellipse cx="117.54" cy="246.70" rx="1.0" ry="0.7" fill="#333"/>
<rect x="126.3" y="172.1" width="45.0" height="23.7" fill="#484848"/>
<use href="#mouse" transform="translate(126.30,172.1) scale(0.978,0.988)" fill="url(#mg)"/>
<ellipse cx="127.50" cy="173.40" rx="0.9" ry="1.4" fill="#2e2e2e" opacity="0.85"/>
<ellipse cx="129.90" cy="173.40" rx="0.9" ry="1.4" fill="#2e2e2e" opacity="0.85"/>
<ellipse cx="132.30" cy="173.40" rx="0.9" ry="1.4" fill="#2e2e2e" opacity="0.85"/>
<ellipse cx="134.30" cy="173.40" rx="0.9" ry="1.4" fill="#2e2e2e" opacity="0.85"/>
<ellipse cx="130.80" cy="194.80" rx="1.3" ry="1.1" fill="#2a2a2a"/>
<ellipse cx="127.90" cy="195.10" rx="1.0" ry="0.7" fill="#333"/>
<use href="#mouse" transform="translate(135.30,172.1) scale(0.978,0.988)" fill="url(#mg)"/>
<ellipse cx="136.50" cy="173.40" rx="0.9" ry="1.4" fill="#2e2e2e" opacity="0.85"/>
<ellipse cx="138.90" cy="173.40" rx="0.9" ry="1.4" fill="#2e2e2e" opacity="0.85"/>
<ellipse cx="141.30" cy="173.40" rx="0.9" ry="1.4" fill="#2e2e2e" opacity="0.85"/>
<ellipse cx="143.30" cy="173.40" rx="0.9" ry="1.4" fill="#2e2e2e" opacity="0.85"/>
<ellipse cx="139.80" cy="194.80" rx="1.3" ry="1.1" fill="#2a2a2a"/>
<ellipse cx="136.90" cy="195.10" rx="1.0" ry="0.7" fill="#333"/>
<use href="#mouse" transform="translate(144.30,172.1) scale(0.978,0.988)" fill="url(#mg)"/>
<ellipse cx="145.50" cy="173.40" rx="0.9" ry="1.4" fill="#2e2e2e" opacity="0.85"/>
<ellipse cx="147.90" cy="173.40" rx="0.9" ry="1.4" fill="#2e2e2e" opacity="0.85"/>
<ellipse cx="150.30" cy="173.40" rx="0.9" ry="1.4" fill="#2e2e2e" opacity="0.85"/>
<ellipse cx="152.30" cy="173.40" rx="0.9" ry="1.4" fill="#2e2e2e" opacity="0.85"/>
<ellipse cx="148.80" cy="194.80" rx="1.3" ry="1.1" fill="#2a2a2a"/>
<ellipse cx="145.90" cy="195.10" rx="1.0" ry="0.7" fill="#333"/>
<use href="#mouse" transform="translate(153.30,172.1) scale(0.978,0.988)" fill="url(#mg)"/>
<ellipse cx="154.50" cy="173.40" rx="0.9" ry="1.4" fill="#2e2e2e" opacity="0.85"/>
<ellipse cx="156.90" cy="173.40" rx="0.9" ry="1.4" fill="#2e2e2e" opacity="0.85"/>
<ellipse cx="159.30" cy="173.40" rx="0.9" ry="1.4" fill="#2e2e2e" opacity="0.85"/>
<ellipse cx="161.30" cy="173.40" rx="0.9" ry="1.4" fill="#2e2e2e" opacity="0.85"/>
<ellipse cx="157.80" cy="194.80" rx="1.3" ry="1.1" fill="#2a2a2a"/>
<ellipse cx="154.90" cy="195.10" rx="1.0" ry="0.7" fill="#333"/>
<use href="#mouse" transform="translate(162.30,172.1) scale(0.978,0.988)" fill="url(#mg)"/>
<ellipse cx="163.50" cy="173.40" rx="0.9" ry="1.4" fill="#2e2e2e" opacity="0.85"/>
<ellipse cx="165.90" cy="173.40" rx="0.9" ry="1.4" fill="#2e2e2e" opacity="0.85"/>
<ellipse cx="168.30" cy="173.40" rx="0.9" ry="1.4" fill="#2e2e2e" opacity="0.85"/>
<ellipse cx="170.30" cy="173.40" rx="0.9" ry="1.4" fill="#2e2e2e" opacity="0.85"/>
<ellipse cx="166.80" cy="194.80" rx="1.3" ry="1.1" fill="#2a2a2a"/>
<ellipse cx="163.90" cy="195.10" rx="1.0" ry="0.7" fill="#333"/>
<rect x="126.3" y="197.9" width="45.0" height="23.3" fill="#484848"/>
<use href="#mouse" transform="translate(126.30,197.9) scale(0.978,0.971)" fill="url(#mg)"/>
<ellipse cx="127.50" cy="199.20" rx="0.9" ry="1.4" fill="#2e2e2e" opacity="0.85"/>
<ellipse cx="129.90" cy="199.20" rx="0.9" ry="1.4" fill="#2e2e2e" opacity="0.85"/>
<ellipse cx="132.30" cy="199.20" rx="0.9" ry="1.4" fill="#2e2e2e" opacity="0.85"/>
<ellipse cx="134.30" cy="199.20" rx="0.9" ry="1.4" fill="#2e2e2e" opacity="0.85"/>
<ellipse cx="130.80" cy="220.20" rx="1.3" ry="1.1" fill="#2a2a2a"/>
<ellipse cx="127.90" cy="220.50" rx="1.0" ry="0.7" fill="#333"/>
<use href="#mouse" transform="translate(135.30,197.9) scale(0.978,0.971)" fill="url(#mg)"/>
<ellipse cx="136.50" cy="199.20" rx="0.9" ry="1.4" fill="#2e2e2e" opacity="0.85"/>
<ellipse cx="138.90" cy="199.20" rx="0.9" ry="1.4" fill="#2e2e2e" opacity="0.85"/>
<ellipse cx="141.30" cy="199.20" rx="0.9" ry="1.4" fill="#2e2e2e" opacity="0.85"/>
<ellipse cx="143.30" cy="199.20" rx="0.9" ry="1.4" fill="#2e2e2e" opacity="0.85"/>
<ellipse cx="139.80" cy="220.20" rx="1.3" ry="1.1" fill="#2a2a2a"/>
<ellipse cx="136.90" cy="220.50" rx="1.0" ry="0.7" fill="#333"/>
<use href="#mouse" transform="translate(144.30,197.9) scale(0.978,0.971)" fill="url(#mg)"/>
<ellipse cx="145.50" cy="199.20" rx="0.9" ry="1.4" fill="#2e2e2e" opacity="0.85"/>
<ellipse cx="147.90" cy="199.20" rx="0.9" ry="1.4" fill="#2e2e2e" opacity="0.85"/>
<ellipse cx="150.30" cy="199.20" rx="0.9" ry="1.4" fill="#2e2e2e" opacity="0.85"/>
<ellipse cx="152.30" cy="199.20" rx="0.9" ry="1.4" fill="#2e2e2e" opacity="0.85"/>
<ellipse cx="148.80" cy="220.20" rx="1.3" ry="1.1" fill="#2a2a2a"/>
<ellipse cx="145.90" cy="220.50" rx="1.0" ry="0.7" fill="#333"/>
<use href="#mouse" transform="translate(153.30,197.9) scale(0.978,0.971)" fill="url(#mg)"/>
<ellipse cx="154.50" cy="199.20" rx="0.9" ry="1.4" fill="#2e2e2e" opacity="0.85"/>
<ellipse cx="156.90" cy="199.20" rx="0.9" ry="1.4" fill="#2e2e2e" opacity="0.85"/>
<ellipse cx="159.30" cy="199.20" rx="0.9" ry="1.4" fill="#2e2e2e" opacity="0.85"/>
<ellipse cx="161.30" cy="199.20" rx="0.9" ry="1.4" fill="#2e2e2e" opacity="0.85"/>
<ellipse cx="157.80" cy="220.20" rx="1.3" ry="1.1" fill="#2a2a2a"/>
<ellipse cx="154.90" cy="220.50" rx="1.0" ry="0.7" fill="#333"/>
<use href="#mouse" transform="translate(162.30,197.9) scale(0.978,0.971)" fill="url(#mg)"/>
<ellipse cx="163.50" cy="199.20" rx="0.9" ry="1.4" fill="#2e2e2e" opacity="0.85"/>
<ellipse cx="165.90" cy="199.20" rx="0.9" ry="1.4" fill="#2e2e2e" opacity="0.85"/>
<ellipse cx="168.30" cy="199.20" rx="0.9" ry="1.4" fill="#2e2e2e" opacity="0.85"/>
<ellipse cx="170.30" cy="199.20" rx="0.9" ry="1.4" fill="#2e2e2e" opacity="0.85"/>
<ellipse cx="166.80" cy="220.20" rx="1.3" ry="1.1" fill="#2a2a2a"/>
<ellipse cx="163.90" cy="220.50" rx="1.0" ry="0.7" fill="#333"/>
<rect x="126.3" y="223.0" width="45.0" height="24.4" fill="#484848"/>
<use href="#mouse" transform="translate(126.30,223.0) scale(0.978,1.017)" fill="url(#mg)"/>
<ellipse cx="127.50" cy="224.30" rx="0.9" ry="1.4" fill="#2e2e2e" opacity="0.85"/>
<ellipse cx="129.90" cy="224.30" rx="0.9" ry="1.4" fill="#2e2e2e" opacity="0.85"/>
<ellipse cx="132.30" cy="224.30" rx="0.9" ry="1.4" fill="#2e2e2e" opacity="0.85"/>
<ellipse cx="134.30" cy="224.30" rx="0.9" ry="1.4" fill="#2e2e2e" opacity="0.85"/>
<ellipse cx="130.80" cy="246.40" rx="1.3" ry="1.1" fill="#2a2a2a"/>
<ellipse cx="127.90" cy="246.70" rx="1.0" ry="0.7" fill="#333"/>
<use href="#mouse" transform="translate(135.30,223.0) scale(0.978,1.017)" fill="url(#mg)"/>
<ellipse cx="136.50" cy="224.30" rx="0.9" ry="1.4" fill="#2e2e2e" opacity="0.85"/>
<ellipse cx="138.90" cy="224.30" rx="0.9" ry="1.4" fill="#2e2e2e" opacity="0.85"/>
<ellipse cx="141.30" cy="224.30" rx="0.9" ry="1.4" fill="#2e2e2e" opacity="0.85"/>
<ellipse cx="143.30" cy="224.30" rx="0.9" ry="1.4" fill="#2e2e2e" opacity="0.85"/>
<ellipse cx="139.80" cy="246.40" rx="1.3" ry="1.1" fill="#2a2a2a"/>
<ellipse cx="136.90" cy="246.70" rx="1.0" ry="0.7" fill="#333"/>
<use href="#mouse" transform="translate(144.30,223.0) scale(0.978,1.017)" fill="url(#mg)"/>
<ellipse cx="145.50" cy="224.30" rx="0.9" ry="1.4" fill="#2e2e2e" opacity="0.85"/>
<ellipse cx="147.90" cy="224.30" rx="0.9" ry="1.4" fill="#2e2e2e" opacity="0.85"/>
<ellipse cx="150.30" cy="224.30" rx="0.9" ry="1.4" fill="#2e2e2e" opacity="0.85"/>
<ellipse cx="152.30" cy="224.30" rx="0.9" ry="1.4" fill="#2e2e2e" opacity="0.85"/>
<ellipse cx="148.80" cy="246.40" rx="1.3" ry="1.1" fill="#2a2a2a"/>
<ellipse cx="145.90" cy="246.70" rx="1.0" ry="0.7" fill="#333"/>
<use href="#mouse" transform="translate(153.30,223.0) scale(0.978,1.017)" fill="url(#mg)"/>
<ellipse cx="154.50" cy="224.30" rx="0.9" ry="1.4" fill="#2e2e2e" opacity="0.85"/>
<ellipse cx="156.90" cy="224.30" rx="0.9" ry="1.4" fill="#2e2e2e" opacity="0.85"/>
<ellipse cx="159.30" cy="224.30" rx="0.9" ry="1.4" fill="#2e2e2e" opacity="0.85"/>
<ellipse cx="161.30" cy="224.30" rx="0.9" ry="1.4" fill="#2e2e2e" opacity="0.85"/>
<ellipse cx="157.80" cy="246.40" rx="1.3" ry="1.1" fill="#2a2a2a"/>
<ellipse cx="154.90" cy="246.70" rx="1.0" ry="0.7" fill="#333"/>
<use href="#mouse" transform="translate(162.30,223.0) scale(0.978,1.017)" fill="url(#mg)"/>
<ellipse cx="163.50" cy="224.30" rx="0.9" ry="1.4" fill="#2e2e2e" opacity="0.85"/>
<ellipse cx="165.90" cy="224.30" rx="0.9" ry="1.4" fill="#2e2e2e" opacity="0.85"/>
<ellipse cx="168.30" cy="224.30" rx="0.9" ry="1.4" fill="#2e2e2e" opacity="0.85"/>
<ellipse cx="170.30" cy="224.30" rx="0.9" ry="1.4" fill="#2e2e2e" opacity="0.85"/>
<ellipse cx="166.80" cy="246.40" rx="1.3" ry="1.1" fill="#2a2a2a"/>
<ellipse cx="163.90" cy="246.70" rx="1.0" ry="0.7" fill="#333"/>
<rect x="115.5" y="199" width="9" height="21" fill="#000" opacity="0.25"/>
<rect x="33.1" y="172.1" width="44.7" height="23.7" fill="#000" opacity="0.2" filter="url(#nz)"/>
<rect x="33.1" y="197.9" width="44.7" height="23.3" fill="#000" opacity="0.2" filter="url(#nz)"/>
<rect x="33.1" y="223.0" width="44.7" height="24.4" fill="#000" opacity="0.2" filter="url(#nz)"/>
<rect x="78.9" y="172.1" width="46.3" height="23.7" fill="#000" opacity="0.2" filter="url(#nz)"/>
<rect x="78.9" y="197.9" width="46.3" height="23.3" fill="#000" opacity="0.2" filter="url(#nz)"/>
<rect x="78.9" y="223.0" width="46.3" height="24.4" fill="#000" opacity="0.2" filter="url(#nz)"/>
<rect x="126.3" y="172.1" width="45.0" height="23.7" fill="#000" opacity="0.2" filter="url(#nz)"/>
<rect x="126.3" y="197.9" width="45.0" height="23.3" fill="#000" opacity="0.2" filter="url(#nz)"/>
<rect x="126.3" y="223.0" width="45.0" height="24.4" fill="#000" opacity="0.2" filter="url(#nz)"/>
<path d="M33.8,180.6 Q38,179.3 42.0,180.2 L42.1,186.1 Q38,187 33.7,186.2 Z" fill="#58c0d0" stroke="#58c0d0" stroke-width="0.6" stroke-linejoin="round" opacity="0.8"/>
<path d="M33.8,180.6 Q38,179.3 42.0,180.2 L42.1,186.1 Q38,187 33.7,186.2 Z" fill="#de3c12"/>
<path d="M42.6,181.0 L46.5,181.8 L50.9,181.0 L50.9,187.4 Q46.5,188.1 42.6,187.4 Z" fill="#58c0d0" stroke="#58c0d0" stroke-width="0.6" stroke-linejoin="round" opacity="0.8"/>
<path d="M42.6,181.0 L46.5,181.8 L50.9,181.0 L50.9,187.4 Q46.5,188.1 42.6,187.4 Z" fill="#de3c12"/>
<path d="M52.4,180.5 Q57,179.6 61.0,180.5 L61.1,186.3 Q57,187.1 52.4,186.3 Z" fill="#58c0d0" stroke="#58c0d0" stroke-width="0.6" stroke-linejoin="round" opacity="0.8"/>
<path d="M52.4,180.5 Q57,179.6 61.0,180.5 L61.1,186.3 Q57,187.1 52.4,186.3 Z" fill="#de3c12"/>
<path d="M62.2,179.7 Q66.5,178.9 70.6,179.7 L70.6,185.9 Q66.5,186.7 62.2,185.9 Z" fill="#58c0d0" stroke="#58c0d0" stroke-width="0.6" stroke-linejoin="round" opacity="0.8"/>
<path d="M62.2,179.7 Q66.5,178.9 70.6,179.7 L70.6,185.9 Q66.5,186.7 62.2,185.9 Z" fill="#de3c12"/>
<path d="M34.6,206 Q38,202.8 41.8,204.6 L42,214 Q41.6,219.2 38,219 Q34.6,219.2 34.3,214 Z" fill="#58c0d0" stroke="#58c0d0" stroke-width="0.6" stroke-linejoin="round" opacity="0.8"/>
<path d="M34.6,206 Q38,202.8 41.8,204.6 L42,214 Q41.6,219.2 38,219 Q34.6,219.2 34.3,214 Z" fill="#de3c12"/>
<path d="M42.8,203.6 L47.2,207.4 L50.6,204.8 L50.6,212 L47.2,209.4 L42.8,213 Z" fill="#58c0d0" stroke="#58c0d0" stroke-width="0.6" stroke-linejoin="round" opacity="0.8"/>
<path d="M42.8,203.6 L47.2,207.4 L50.6,204.8 L50.6,212 L47.2,209.4 L42.8,213 Z" fill="#de3c12"/>
<path d="M52.2,209.5 Q54,205 59.5,203 L60.6,203.2 L60.6,218.6 L59,218.6 Q54,215 52.2,211 Z" fill="#58c0d0" stroke="#58c0d0" stroke-width="0.6" stroke-linejoin="round" opacity="0.8"/>
<path d="M52.2,209.5 Q54,205 59.5,203 L60.6,203.2 L60.6,218.6 L59,218.6 Q54,215 52.2,211 Z" fill="#de3c12"/>
<path d="M61.2,205 Q66,202.8 71,203.4 L74.4,210 L72.5,216 Q68,219.6 62,219.2 L61.2,213 Z" fill="#58c0d0" stroke="#58c0d0" stroke-width="0.6" stroke-linejoin="round" opacity="0.8"/>
<path d="M61.2,205 Q66,202.8 71,203.4 L74.4,210 L72.5,216 Q68,219.6 62,219.2 L61.2,213 Z" fill="#de3c12"/>
<ellipse cx="64.3" cy="210.8" rx="1.3" ry="2.1" fill="#fff"/>
<path d="M34.2,232.5 Q37.5,229.2 41.2,230.6 L41.5,240 Q41,246.4 38,246.4 Q34.2,246.4 33.9,240 Z" fill="#58c0d0" stroke="#58c0d0" stroke-width="0.6" stroke-linejoin="round" opacity="0.8"/>
<path d="M34.2,232.5 Q37.5,229.2 41.2,230.6 L41.5,240 Q41,246.4 38,246.4 Q34.2,246.4 33.9,240 Z" fill="#de3c12"/>
<path d="M41,231 L45,230.4 L49,232 L49.2,236 L46,239.5 L41.2,238 Z" fill="#58c0d0" stroke="#58c0d0" stroke-width="0.6" stroke-linejoin="round" opacity="0.8"/>
<path d="M41,231 L45,230.4 L49,232 L49.2,236 L46,239.5 L41.2,238 Z" fill="#de3c12"/>
<path d="M51.8,232 Q54,229.2 57.5,229 Q61,227 66,227.4 Q70.5,228.2 71.6,232 L71.8,242 Q70.8,246.4 66,246.4 Q59,246.6 56,245.5 Q52,244 51.6,240 Z" fill="#58c0d0" stroke="#58c0d0" stroke-width="0.6" stroke-linejoin="round" opacity="0.8"/>
<path d="M51.8,232 Q54,229.2 57.5,229 Q61,227 66,227.4 Q70.5,228.2 71.6,232 L71.8,242 Q70.8,246.4 66,246.4 Q59,246.6 56,245.5 Q52,244 51.6,240 Z" fill="#de3c12"/>
<ellipse cx="63.3" cy="237.2" rx="1.3" ry="2.1" fill="#fff"/>
<rect x="41.5" y="198.5" width="1.4" height="22" fill="#202020" opacity="0.7"/>
<rect x="41.5" y="223.5" width="1.4" height="23" fill="#202020" opacity="0.5"/>
<rect x="50.8" y="198.5" width="1.4" height="22" fill="#202020" opacity="0.7"/>
<rect x="50.8" y="223.5" width="1.4" height="23" fill="#202020" opacity="0.5"/>
<rect x="60.0" y="198.5" width="1.4" height="22" fill="#202020" opacity="0.7"/>
<rect x="60.0" y="223.5" width="1.4" height="23" fill="#202020" opacity="0.5"/>
<rect x="69.3" y="198.5" width="1.4" height="22" fill="#202020" opacity="0.7"/>
<rect x="69.3" y="223.5" width="1.4" height="23" fill="#202020" opacity="0.5"/>
</g>
<rect x="171.7" y="171.5" width="2.8" height="74.3" fill="url(#cb)"/>
<text x="179.2" y="163.6" font-size="7.0" text-anchor="start" fill="#000" textLength="15" lengthAdjust="spacingAndGlyphs"  stroke="#000" stroke-width="0.14">x10<tspan font-size="4.4" dy="-3">3</tspan></text>
<text x="179.4" y="174.89999999999998" font-size="7.5" text-anchor="start" fill="#000" textLength="11.8" lengthAdjust="spacingAndGlyphs"  stroke="#000" stroke-width="0.2">200</text>
<text x="179.4" y="189.81999999999996" font-size="7.5" text-anchor="start" fill="#000" textLength="11.8" lengthAdjust="spacingAndGlyphs"  stroke="#000" stroke-width="0.2">180</text>
<text x="179.4" y="204.73999999999998" font-size="7.5" text-anchor="start" fill="#000" textLength="11.8" lengthAdjust="spacingAndGlyphs"  stroke="#000" stroke-width="0.2">160</text>
<text x="179.4" y="219.65999999999997" font-size="7.5" text-anchor="start" fill="#000" textLength="11.8" lengthAdjust="spacingAndGlyphs"  stroke="#000" stroke-width="0.2">140</text>
<text x="179.4" y="234.57999999999998" font-size="7.5" text-anchor="start" fill="#000" textLength="11.8" lengthAdjust="spacingAndGlyphs"  stroke="#000" stroke-width="0.2">120</text>
<text x="179.4" y="249.49999999999997" font-size="7.5" text-anchor="start" fill="#000" textLength="11.8" lengthAdjust="spacingAndGlyphs"  stroke="#000" stroke-width="0.2">100</text>
<text x="40" y="257.2" font-size="8.4" text-anchor="start" fill="#000" textLength="32.1" lengthAdjust="spacingAndGlyphs"  stroke="#000" stroke-width="0.2">BM + A20</text>
<text x="91" y="257.2" font-size="8.4" text-anchor="start" fill="#000" textLength="22.3" lengthAdjust="spacingAndGlyphs"  stroke="#000" stroke-width="0.2">+ WT T</text>
<text x="132.3" y="257.2" font-size="8.4" text-anchor="start" fill="#000" textLength="30.7" lengthAdjust="spacingAndGlyphs"  stroke="#000" stroke-width="0.2">+Nrf2<tspan font-size="4.8" dy="-3.2">-/-</tspan><tspan dy="3.2"> T</tspan></text>
<text x="31.7" y="266" font-size="5.4" text-anchor="start" fill="#000" textLength="46.2" lengthAdjust="spacingAndGlyphs"  stroke="#000" stroke-width="0.05">Image: Min = -345.63</text>
<text x="45.2" y="272.3" font-size="5.4" text-anchor="start" fill="#000" textLength="39.4" lengthAdjust="spacingAndGlyphs"  stroke="#000" stroke-width="0.05">Max = 1.6261x10<tspan font-size="3.5" dy="-2.2">6</tspan></text>
<text x="45.2" y="278.3" font-size="5.4" text-anchor="start" fill="#000"  stroke="#000" stroke-width="0.05">p/sec/cm<tspan font-size="3.5" dy="-2.2">2</tspan><tspan dy="2.2">/sr</tspan></text>
<text x="130.2" y="265.2" font-size="5.4" text-anchor="start" fill="#000" textLength="49.7" lengthAdjust="spacingAndGlyphs"  stroke="#000" stroke-width="0.05">Color Bar: Min = 1x10<tspan font-size="3.5" dy="-2.2">5</tspan></text>
<text x="149.2" y="271.6" font-size="5.4" text-anchor="start" fill="#000" textLength="27.9" lengthAdjust="spacingAndGlyphs"  stroke="#000" stroke-width="0.05">Max = 2x10<tspan font-size="3.5" dy="-2.2">5</tspan></text>
<text x="214.2" y="152.6" font-size="10" text-anchor="start" fill="#000"  stroke="#000" stroke-width="0.2">E</text>
<text transform="translate(222.9,208.75) rotate(-90)" font-size="8.7" text-anchor="middle" stroke="#000" stroke-width="0.2" textLength="91.7" lengthAdjust="spacingAndGlyphs">Flux (x10<tspan font-size="5.4" dy="-3.2">6</tspan><tspan dy="3.2"> photons/sec)</tspan></text>
<path d="M246.3,170.5V247.8 M245.8,247.3H319.4 M243.8,173.3H246.3 M243.8,188H246.3 M243.8,202.6H246.3 M243.8,217.3H246.3 M243.8,232H246.3 M255.9,247.3V249.5 M274.6,247.3V249.5 M292.5,247.3V249.5 M311.5,247.3V249.5" fill="none" stroke="#000" stroke-width="1"/>
<text x="240.8" y="176.3" font-size="7.2" text-anchor="end" fill="#000"  stroke="#000" stroke-width="0.14">250</text>
<text x="240.8" y="191.0" font-size="7.2" text-anchor="end" fill="#000"  stroke="#000" stroke-width="0.14">200</text>
<text x="240.8" y="205.70000000000002" font-size="7.2" text-anchor="end" fill="#000"  stroke="#000" stroke-width="0.14">150</text>
<text x="240.8" y="220.4" font-size="7.2" text-anchor="end" fill="#000"  stroke="#000" stroke-width="0.14">100</text>
<text x="240.8" y="235.10000000000002" font-size="7.2" text-anchor="end" fill="#000"  stroke="#000" stroke-width="0.14">50</text>
<text x="240.8" y="249.8" font-size="7.2" text-anchor="end" fill="#000"  stroke="#000" stroke-width="0.14">0</text>
<text x="255.9" y="257.3" font-size="7.8" text-anchor="middle" fill="#000" textLength="3.6" lengthAdjust="spacingAndGlyphs"  stroke="#000" stroke-width="0.2">7</text>
<text x="274.6" y="257.3" font-size="7.8" text-anchor="middle" fill="#000" textLength="7.4" lengthAdjust="spacingAndGlyphs"  stroke="#000" stroke-width="0.2">14</text>
<text x="292.5" y="257.3" font-size="7.8" text-anchor="middle" fill="#000" textLength="7.4" lengthAdjust="spacingAndGlyphs"  stroke="#000" stroke-width="0.2">21</text>
<text x="311.5" y="257.3" font-size="7.8" text-anchor="middle" fill="#000" textLength="7.4" lengthAdjust="spacingAndGlyphs"  stroke="#000" stroke-width="0.2">28</text>
<text x="254.3" y="269.9" font-size="8.6" text-anchor="start" fill="#000" textLength="58.5" lengthAdjust="spacingAndGlyphs"  stroke="#000" stroke-width="0.2">Days after HCT</text>
<path d="M274.6,236V242.5 M273.3,236H275.9 M273.3,242.5H275.9 M292.5,214.8V225.1 M291.2,214.8H293.8 M291.2,225.1H293.8 M311.5,188.4V204.5 M310.2,188.4H312.8 M310.2,204.5H312.8" stroke="#000" stroke-width="0.9" fill="none"/>
<polyline points="255.9,246.8 274.6,239.3 292.5,219.8 311.5,196.2" fill="none" stroke="#6ab43e" stroke-width="1.4"/>
<circle cx="255.9" cy="246.8" r="2.2" fill="#fff" stroke="#6ab43e" stroke-width="0.9"/><path d="M253.9,246.8H257.9" stroke="#6ab43e" stroke-width="0.8"/>
<circle cx="274.6" cy="239.3" r="2.2" fill="#fff" stroke="#6ab43e" stroke-width="0.9"/><path d="M272.6,239.3H276.6" stroke="#6ab43e" stroke-width="0.8"/>
<circle cx="292.5" cy="219.8" r="2.2" fill="#fff" stroke="#6ab43e" stroke-width="0.9"/><path d="M290.5,219.8H294.5" stroke="#6ab43e" stroke-width="0.8"/>
<circle cx="311.5" cy="196.2" r="2.2" fill="#fff" stroke="#6ab43e" stroke-width="0.9"/><path d="M309.5,196.2H313.5" stroke="#6ab43e" stroke-width="0.8"/>
<path d="M255.9,246.9H311.5" stroke="#b5002a" stroke-width="1.4"/>
<path d="M255.9,244.70000000000002 L258.1,246.9 L255.9,249.1 L253.70000000000002,246.9 Z" fill="#b5002a" stroke="#300" stroke-width="0.4"/>
<path d="M274.6,244.70000000000002 L276.8,246.9 L274.6,249.1 L272.40000000000003,246.9 Z" fill="#b5002a" stroke="#300" stroke-width="0.4"/>
<path d="M292.5,244.70000000000002 L294.7,246.9 L292.5,249.1 L290.3,246.9 Z" fill="#b5002a" stroke="#300" stroke-width="0.4"/>
<path d="M311.5,244.70000000000002 L313.7,246.9 L311.5,249.1 L309.3,246.9 Z" fill="#b5002a" stroke="#300" stroke-width="0.4"/>
<path d="M249.2,174.2H261.5" stroke="#b5002a" stroke-width="1.5"/>
<path d="M255.5,171.7 L258.0,174.2 L255.5,176.7 L253.0,174.2 Z" fill="#b5002a" stroke="#300" stroke-width="0.4"/>
<path d="M249.2,182.3H261.5" stroke="#2e5597" stroke-width="1.5"/>
<rect x="253.2" y="180" width="4.6" height="4.6" fill="#2e5597"/>
<path d="M249.2,190.4H261.5" stroke="#6ab43e" stroke-width="1.5"/>
<circle cx="255.5" cy="190.4" r="2.4" fill="#fff" stroke="#6ab43e" stroke-width="0.9"/><path d="M253.3,190.4H257.7" stroke="#6ab43e" stroke-width="0.8"/>
<text x="264.5" y="176.7" font-size="6.9" text-anchor="start" fill="#000"  stroke="#000" stroke-width="0.14">BM+A20+Nrf2<tspan font-size="4.4" dy="-3">-/-</tspan><tspan dy="3"> T</tspan></text>
<text x="264.5" y="184.8" font-size="6.9" text-anchor="start" fill="#000" textLength="45.4" lengthAdjust="spacingAndGlyphs"  stroke="#000" stroke-width="0.14">BM+A20+WT T</text>
<text x="264.5" y="192.9" font-size="6.9" text-anchor="start" fill="#000" textLength="26.5" lengthAdjust="spacingAndGlyphs"  stroke="#000" stroke-width="0.14">BM+A20</text>
<text x="343.4" y="152.7" font-size="10" text-anchor="start" fill="#000"  stroke="#000" stroke-width="0.2">F</text>
<text transform="translate(349.1,206.1) rotate(-90)" font-size="8.4" text-anchor="middle" stroke="#000" stroke-width="0.2" textLength="63.2" lengthAdjust="spacingAndGlyphs">Survival rate (%)</text>
<path d="M374.5,165.5V247.8 M374,247.3H491.6 M372,168.8H374.5 M372,184.5H374.5 M372,200.3H374.5 M372,216H374.5 M372,231.7H374.5 M374.4,247.3V249.8 M397.1,247.3V249.8 M419.8,247.3V249.8 M442.5,247.3V249.8 M465.2,247.3V249.8 M487.9,247.3V249.8" fill="none" stroke="#000" stroke-width="1"/>
<text x="368.6" y="171.4" font-size="7.3" text-anchor="end" fill="#000"  stroke="#000" stroke-width="0.14">100</text>
<text x="368.6" y="187.1" font-size="7.3" text-anchor="end" fill="#000"  stroke="#000" stroke-width="0.14">80</text>
<text x="368.6" y="202.8" font-size="7.3" text-anchor="end" fill="#000"  stroke="#000" stroke-width="0.14">60</text>
<text x="368.6" y="218.5" font-size="7.3" text-anchor="end" fill="#000"  stroke="#000" stroke-width="0.14">40</text>
<text x="368.6" y="234.20000000000002" font-size="7.3" text-anchor="end" fill="#000"  stroke="#000" stroke-width="0.14">20</text>
<text x="368.6" y="249.9" font-size="7.3" text-anchor="end" fill="#000"  stroke="#000" stroke-width="0.14">0</text>
<text x="374.6" y="260" font-size="7.3" text-anchor="middle" fill="#000"  stroke="#000" stroke-width="0.14">0</text>
<text x="397.3" y="260" font-size="7.3" text-anchor="middle" fill="#000"  stroke="#000" stroke-width="0.14">20</text>
<text x="420.0" y="260" font-size="7.3" text-anchor="middle" fill="#000"  stroke="#000" stroke-width="0.14">40</text>
<text x="442.70000000000005" y="260" font-size="7.3" text-anchor="middle" fill="#000"  stroke="#000" stroke-width="0.14">60</text>
<text x="465.40000000000003" y="260" font-size="7.3" text-anchor="middle" fill="#000"  stroke="#000" stroke-width="0.14">80</text>
<text x="488.1" y="260" font-size="7.3" text-anchor="middle" fill="#000"  stroke="#000" stroke-width="0.14">100</text>
<text x="403.6" y="273.2" font-size="8.6" text-anchor="start" fill="#000" textLength="58.5" lengthAdjust="spacingAndGlyphs"  stroke="#000" stroke-width="0.2">Days after HCT</text>
<path d="M374.5,168.8 H384.1 V174.1 H386.6 V177.8 H389 V181.4 H406.2 V193.9 H413.1 V227.8 H445.5 V231 H450.8 V234.4 H473.5" fill="none" stroke="#2e5597" stroke-width="1.1"/>
<path d="M374.5,168.8 H397.4 V188.9 H398.5 V195.2 H401 V200.9 H402.4 V210.8 H405 V221.2 H406.2 V236.2 H413.5 V242 H429.3 V247.3" fill="none" stroke="#6ab43e" stroke-width="1.1"/>
<path d="M374.5,168.8 H405.9 V177.8 H410.5 V181.3 H414 V187.8 H416.8 V190.6 H420.8 V203.3 H437.7 V206.8 H471 V209.5 H481.5" fill="none" stroke="#b5002a" stroke-width="1.3"/>
<circle cx="397.5" cy="184.5" r="2.4" fill="#fff" fill-opacity="0.6" stroke="#6ab43e" stroke-width="0.95"/>
<circle cx="397.8" cy="188.9" r="2.4" fill="#fff" fill-opacity="0.6" stroke="#6ab43e" stroke-width="0.95"/>
<circle cx="398.5" cy="191.4" r="2.4" fill="#fff" fill-opacity="0.6" stroke="#6ab43e" stroke-width="0.95"/>
<circle cx="398.9" cy="195.2" r="2.4" fill="#fff" fill-opacity="0.6" stroke="#6ab43e" stroke-width="0.95"/>
<circle cx="401" cy="199.4" r="2.4" fill="#fff" fill-opacity="0.6" stroke="#6ab43e" stroke-width="0.95"/>
<circle cx="401.5" cy="200.9" r="2.4" fill="#fff" fill-opacity="0.6" stroke="#6ab43e" stroke-width="0.95"/>
<circle cx="402.4" cy="210.8" r="2.4" fill="#fff" fill-opacity="0.6" stroke="#6ab43e" stroke-width="0.95"/>
<circle cx="405" cy="221.2" r="2.4" fill="#fff" fill-opacity="0.6" stroke="#6ab43e" stroke-width="0.95"/>
<circle cx="406.2" cy="236.2" r="2.4" fill="#fff" fill-opacity="0.6" stroke="#6ab43e" stroke-width="0.95"/>
<circle cx="413.5" cy="242" r="2.4" fill="#fff" fill-opacity="0.6" stroke="#6ab43e" stroke-width="0.95"/>
<circle cx="429.3" cy="247.3" r="2.4" fill="#fff" fill-opacity="0.6" stroke="#6ab43e" stroke-width="0.95"/>
<rect x="381.70000000000005" y="171.7" width="4.8" height="4.8" fill="#2e5597" stroke="#111" stroke-width="0.7"/>
<rect x="384.20000000000005" y="175.4" width="4.8" height="4.8" fill="#2e5597" stroke="#111" stroke-width="0.7"/>
<rect x="386.6" y="179.1" width="4.8" height="4.8" fill="#2e5597" stroke="#111" stroke-width="0.7"/>
<rect x="403.8" y="191.4" width="4.8" height="4.8" fill="#2e5597" stroke="#111" stroke-width="0.7"/>
<rect x="410.90000000000003" y="197.7" width="4.8" height="4.8" fill="#2e5597" stroke="#111" stroke-width="0.7"/>
<rect x="411.8" y="219.29999999999998" width="4.8" height="4.8" fill="#2e5597" stroke="#111" stroke-width="0.7"/>
<rect x="412.5" y="225.4" width="4.8" height="4.8" fill="#2e5597" stroke="#111" stroke-width="0.7"/>
<rect x="443.20000000000005" y="228.79999999999998" width="4.8" height="4.8" fill="#2e5597" stroke="#111" stroke-width="0.7"/>
<rect x="448.40000000000003" y="232.0" width="4.8" height="4.8" fill="#2e5597" stroke="#111" stroke-width="0.7"/>
<rect x="471.1" y="232.0" width="4.8" height="4.8" fill="#2e5597" stroke="#111" stroke-width="0.7"/>
<path d="M405.9,174.9 L408.79999999999995,177.8 L405.9,180.70000000000002 L403.0,177.8 Z" fill="#b5002a" stroke="#300" stroke-width="0.4"/>
<path d="M410.5,178.4 L413.4,181.3 L410.5,184.20000000000002 L407.6,181.3 Z" fill="#b5002a" stroke="#300" stroke-width="0.4"/>
<path d="M414,184.9 L416.9,187.8 L414,190.70000000000002 L411.1,187.8 Z" fill="#b5002a" stroke="#300" stroke-width="0.4"/>
<path d="M416.8,187.7 L419.7,190.6 L416.8,193.5 L413.90000000000003,190.6 Z" fill="#b5002a" stroke="#300" stroke-width="0.4"/>
<path d="M421,200.4 L423.9,203.3 L421,206.20000000000002 L418.1,203.3 Z" fill="#b5002a" stroke="#300" stroke-width="0.4"/>
<path d="M438,203.9 L440.9,206.8 L438,209.70000000000002 L435.1,206.8 Z" fill="#b5002a" stroke="#300" stroke-width="0.4"/>
<path d="M470.8,206.6 L473.7,209.5 L470.8,212.4 L467.90000000000003,209.5 Z" fill="#b5002a" stroke="#300" stroke-width="0.4"/>
<path d="M473.5,206.6 L476.4,209.5 L473.5,212.4 L470.6,209.5 Z" fill="#b5002a" stroke="#300" stroke-width="0.4"/>
<path d="M481.3,206.6 L484.2,209.5 L481.3,212.4 L478.40000000000003,209.5 Z" fill="#b5002a" stroke="#300" stroke-width="0.4"/>
<path d="M427.8,167.8H440.4" stroke="#6ab43e" stroke-width="1.1"/><circle cx="434" cy="167.8" r="2.3" fill="#fff" stroke="#6ab43e" stroke-width="0.9"/><path d="M431.8,167.8H436.2" stroke="#6ab43e" stroke-width="0.8"/>
<path d="M427.8,177.2H440.4" stroke="#2e5597" stroke-width="1.1"/>
<rect x="431.9" y="175.1" width="4.2" height="4.2" fill="#2e5597" stroke="#111" stroke-width="0.7"/>
<path d="M427.8,187.3H440.4" stroke="#b5002a" stroke-width="1.1"/>
<path d="M434,184.70000000000002 L436.6,187.3 L434,189.9 L431.4,187.3 Z" fill="#b5002a" stroke="#300" stroke-width="0.4"/>
<text x="442.7" y="170.3" font-size="6.9" text-anchor="start" fill="#000" textLength="44.8" lengthAdjust="spacingAndGlyphs"  stroke="#000" stroke-width="0.14">BM only + A20</text>
<text x="442.7" y="179.7" font-size="6.9" text-anchor="start" fill="#000" textLength="60.5" lengthAdjust="spacingAndGlyphs"  stroke="#000" stroke-width="0.14">BM + A20 + WT T</text>
<text x="442.7" y="189.8" font-size="6.9" text-anchor="start" fill="#000"  stroke="#000" stroke-width="0.14">BM + A20 + Nrf2<tspan font-size="4.4" dy="-3">-/-</tspan><tspan dy="3"> T</tspan></text>
<path d="M480.4,214.4V232.8" stroke="#333" stroke-width="0.9"/>
<text x="474.0" y="226.1" font-size="7.0" text-anchor="middle" fill="#000" textLength="5.5" lengthAdjust="spacingAndGlyphs"  stroke="#000" stroke-width="0.14">**</text>
</svg></body></html>
